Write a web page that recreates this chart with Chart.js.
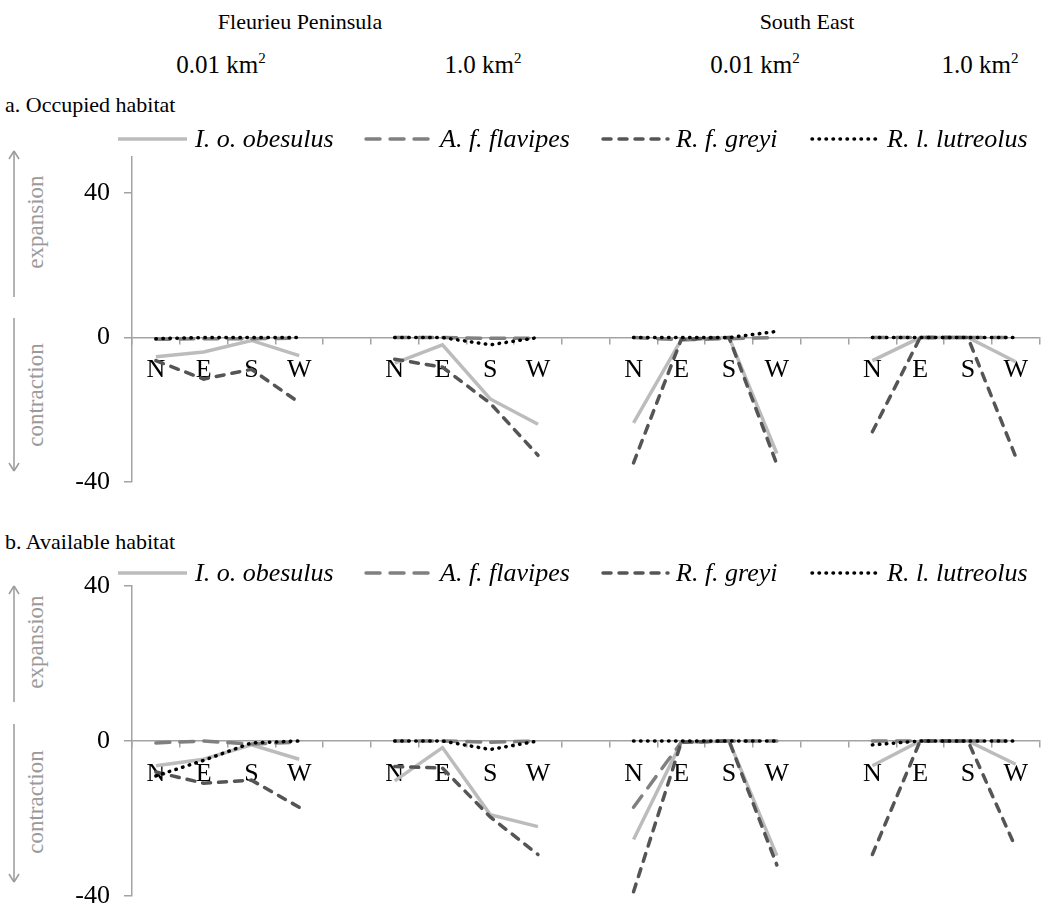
<!DOCTYPE html>
<html>
<head>
<meta charset="utf-8">
<script src="https://cdn.jsdelivr.net/npm/chart.js@4.4.1/dist/chart.umd.min.js"></script>
<style>
  body { margin: 0; background: #fff; }
  #page { position: relative; width: 1042px; height: 912px; overflow: hidden;
          font-family: "Liberation Serif", "Times New Roman", serif; color: #000; }
  .t { position: absolute; white-space: nowrap; font-family: "Liberation Serif", serif;
       font-size: 22px; transform: translate(-50%, -50%); }
  .km { font-size: 25px; }
  .lt { position: absolute; white-space: nowrap; font-family: "Liberation Serif", serif;
        font-size: 22px; transform: translateY(-50%); }
  .leg { position: absolute; white-space: nowrap; font-family: "Liberation Serif", serif;
         font-size: 26px; font-style: italic; transform: translateY(-50%); }
  .side { position: absolute; white-space: nowrap; font-family: "Liberation Serif", serif;
          font-size: 23px; color: #9a9a9a; transform: translate(-50%, -50%) rotate(-90deg); }
  canvas { position: absolute; left: 0; }
  sup { font-size: 15px; vertical-align: 10px; line-height: 0; }
  #overlay { position: absolute; left: 0; top: 0; pointer-events: none; }
</style>
</head>
<body>
<div id="page">
  <div class="t" style="left:300px;top:22px">Fleurieu Peninsula</div>
  <div class="t" style="left:807px;top:22px">South East</div>
  <div class="t km" style="left:221px;top:65px">0.01 km<sup>2</sup></div>
  <div class="t km" style="left:483px;top:65px">1.0 km<sup>2</sup></div>
  <div class="t km" style="left:755px;top:65px">0.01 km<sup>2</sup></div>
  <div class="t km" style="left:980px;top:65px">1.0 km<sup>2</sup></div>
  <div class="lt" style="left:5px;top:105px">a. Occupied habitat</div>
  <div class="lt" style="left:5px;top:542px">b. Available habitat</div>

  <div class="side" style="left:36px;top:222px">expansion</div>
  <div class="side" style="left:36px;top:395px">contraction</div>
  <div class="side" style="left:36px;top:642px">expansion</div>
  <div class="side" style="left:36px;top:802px">contraction</div>

  <canvas id="chartA" width="1042" height="390" style="top:125px"></canvas>
  <canvas id="chartB" width="1042" height="410" style="top:540px"></canvas>
  <svg id="overlay" width="1042" height="912"></svg>
</div>

<script>
// categories: four compass directions per group, blank slot between groups
var categories = ['N','E','S','W','', 'N','E','S','W','', 'N','E','S','W','', 'N','E','S','W'];
var yTicks = [-40, 0, 40];

var seriesNames = ['I. o. obesulus', 'A. f. flavipes', 'R. f. greyi', 'R. l. lutreolus'];

// a. Occupied habitat
var occObesulus  = [-5.3, -4, -0.8, -5, null, -7.1, -2, -17, -24, null, -23.6, -0.6, 0, -32.1, null, -6.4, 0, 0, -6.7];
var occFlavipes  = [-0.5, -0.3, -0.3, -0.2, null, 0, 0, -0.2, -0.2, null, 0, -0.6, -0.3, 0, null, 0, 0, 0, 0];
var occGreyi     = [-6.4, -11.5, -8.8, -18, null, -6, -8.2, -18.2, -32.6, null, -34.7, -0.5, 0, -35.1, null, -26.1, 0, 0, -33];
var occLutreolus = [-0.3, 0, 0, 0, null, 0, 0, -2, 0, null, 0, 0, 0, 1.7, null, 0, 0, 0, 0];

// b. Available habitat
var avObesulus  = [-6.4, -4.7, -1, -4.7, null, -10.3, -1.7, -19, -22.1, null, -25.4, -0.3, 0, -29.6, null, -6.4, 0, 0, -6];
var avFlavipes  = [-0.5, 0, -0.8, -0.3, null, 0, 0, -0.3, 0, null, -17.1, -0.3, 0, 0, null, 0, 0, 0, 0];
var avGreyi     = [-8, -10.9, -10.1, -17.1, null, -6.6, -7, -19.6, -29.3, null, -38.9, -0.3, 0, -32, null, -29.3, 0, 0, -27.5];
var avLutreolus = [-9, -5, -0.5, 0, null, 0, 0, -2.2, 0, null, 0, 0, 0, 0, null, -1, 0, 0, 0];

// line styles
var styles = [
  { color: '#bcbcbc', dash: [],        width: 3.5, cap: 'butt'  },
  { color: '#808080', dash: [14, 10],  width: 3.5, cap: 'round' },
  { color: '#555555', dash: [8, 8],    width: 3.5, cap: 'round' },
  { color: '#000000', dash: [0.5, 6.5], width: 3.5, cap: 'round' }
];

var axisGray = '#a3a3a3';
var tickFont = { family: 'Liberation Serif', size: 26, lineHeight: 1 };

function makePanel(id, seriesData, yMax, padTop, padBottom) {
  var datasets = seriesData.map(function(d, i) {
    return {
      label: seriesNames[i],
      data: d,
      borderColor: styles[i].color,
      borderWidth: styles[i].width,
      borderDash: styles[i].dash,
      borderCapStyle: styles[i].cap,
      fill: false,
      spanGaps: false,
      pointRadius: 0,
      tension: 0,
      order: 4 - i
    };
  });

  return new Chart(document.getElementById(id), {
    type: 'line',
    data: { labels: categories, datasets: datasets },
    options: {
      responsive: false,
      animation: false,
      devicePixelRatio: 1,
      layout: { padding: { left: 0, right: 2, top: padTop, bottom: padBottom } },
      plugins: { legend: { display: false }, tooltip: { enabled: false } },
      scales: {
        x: {
          type: 'category',
          position: { y: 0 },
          offset: true,
          grid: { offset: true, drawOnChartArea: false, drawTicks: true, tickLength: 6,
                  color: axisGray, lineWidth: 1.5 },
          border: { color: axisGray, width: 1.5 },
          ticks: { color: '#000', font: tickFont, padding: 14, autoSkip: false, maxRotation: 0 }
        },
        y: {
          min: -40,
          max: yMax,
          afterFit: function(s) { s.width = 132; },
          afterBuildTicks: function(s) { s.ticks = yTicks.map(function(v) { return { value: v }; }); },
          grid: { drawOnChartArea: false, tickLength: 8, color: axisGray, lineWidth: 1.5 },
          border: { color: axisGray, width: 1.5 },
          ticks: { color: '#000', font: tickFont, padding: 14 }
        }
      }
    }
  });
}

// chart areas: A 157..482 (-40..50), B 586..896 (-40..40)
makePanel('chartA', [occObesulus, occFlavipes, occGreyi, occLutreolus], 50, 32, 33);
makePanel('chartB', [avObesulus, avFlavipes, avGreyi, avLutreolus], 40, 46, 54);

// legends and side arrows
var svg = document.getElementById('overlay');
var NS = 'http://www.w3.org/2000/svg';
function line(x1, y1, x2, y2, color, width, dash, cap) {
  var l = document.createElementNS(NS, 'line');
  l.setAttribute('x1', x1); l.setAttribute('y1', y1);
  l.setAttribute('x2', x2); l.setAttribute('y2', y2);
  l.setAttribute('stroke', color); l.setAttribute('stroke-width', width);
  if (dash && dash.length) l.setAttribute('stroke-dasharray', dash.join(' '));
  l.setAttribute('stroke-linecap', cap || 'butt');
  svg.appendChild(l);
}

var legendX = [[118, 187, 195], [366, 432, 440], [603, 668, 676], [812, 876, 887]];
[139, 573].forEach(function(ly) {
  seriesNames.forEach(function(name, i) {
    var s = styles[i];
    line(legendX[i][0], ly, legendX[i][1], ly, s.color, s.width, s.dash, s.cap);
    var d = document.createElement('div');
    d.className = 'leg';
    d.style.left = legendX[i][2] + 'px';
    d.style.top = ly + 'px';
    d.textContent = name;
    document.getElementById('page').appendChild(d);
  });
});

function arrow(x, yFrom, yTo) {
  line(x, yFrom, x, yTo, '#9a9a9a', 1.5);
  var dir = yTo < yFrom ? 1 : -1;
  line(x, yTo, x - 5, yTo + dir * 8, '#9a9a9a', 1.5);
  line(x, yTo, x + 5, yTo + dir * 8, '#9a9a9a', 1.5);
}
arrow(14, 297, 151);
arrow(14, 318, 471);
arrow(14, 702, 586);
arrow(14, 724, 882);
</script>
</body>
</html>
